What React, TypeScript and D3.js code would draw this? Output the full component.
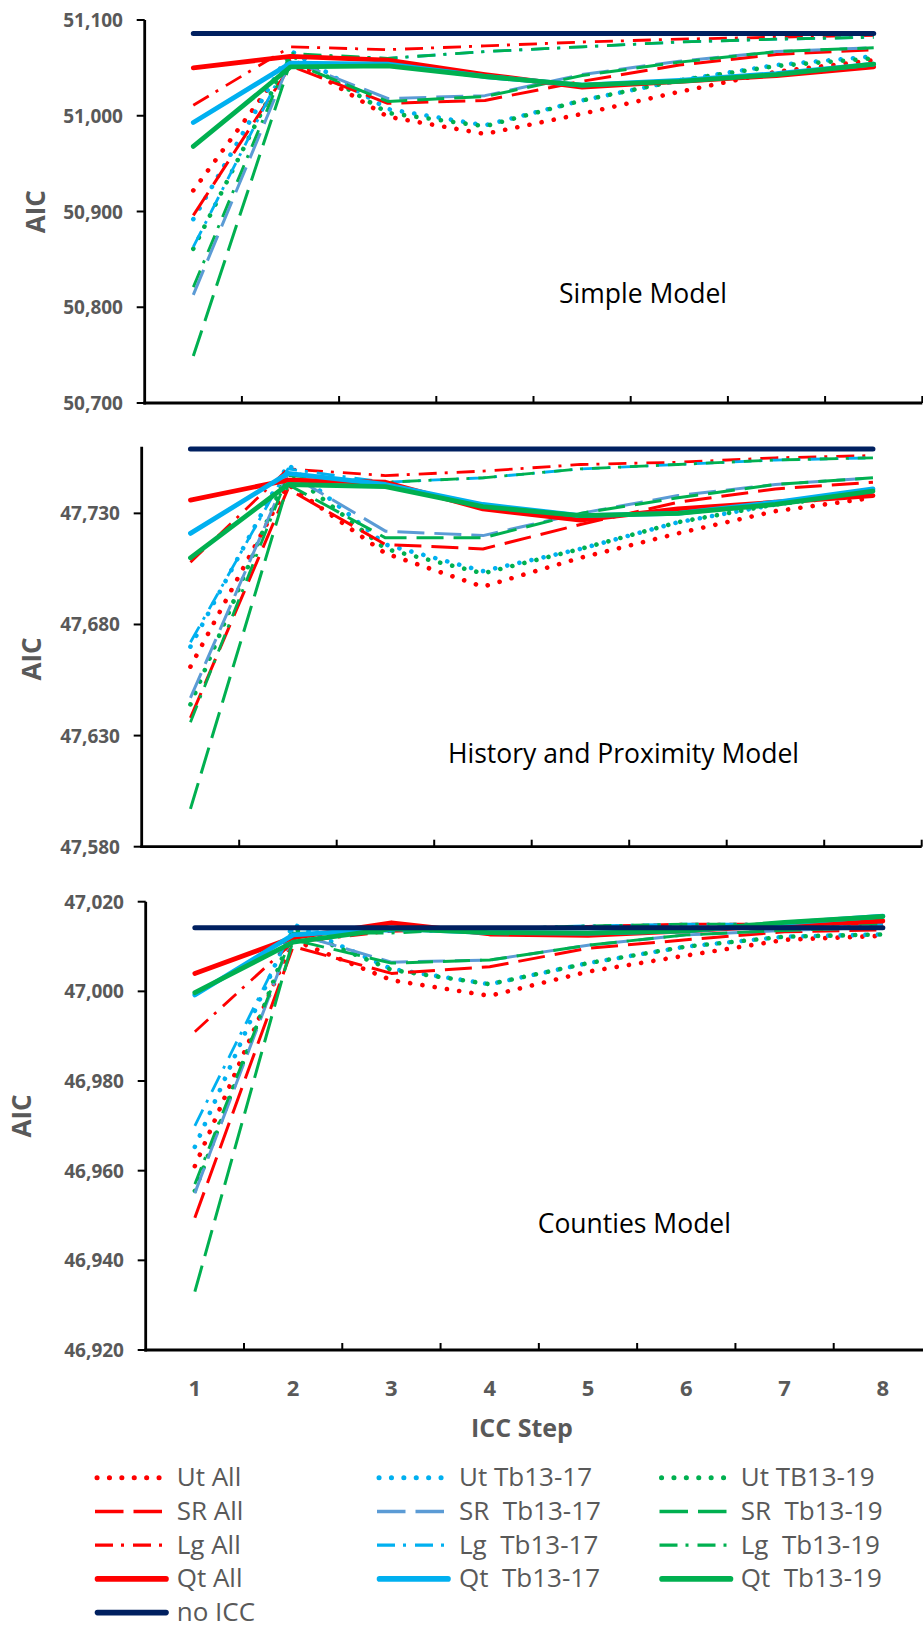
import React from 'react';
import * as d3 from 'd3';

// ---------- DATA ----------
const STEPS = [1, 2, 3, 4, 5, 6, 7, 8];

const SIMPLE_TICKS = [50700, 50800, 50900, 51000, 51100];
const HISTORY_TICKS = [47580, 47630, 47680, 47730];
const COUNTIES_TICKS = [46920, 46940, 46960, 46980, 47000, 47020];

// Simple Model
const S_UT_ALL = [50922, 51060, 50999, 50981, 51002, 51025, 51046, 51058];
const S_SR_ALL = [50896, 51052, 51013, 51016, 51036, 51053, 51064, 51069];
const S_LG_ALL = [51011, 51072, 51069, 51073, 51077, 51080, 51082, 51084];
const S_QT_ALL = [51050, 51062, 51058, 51043, 51030, 51036, 51042, 51051];
const S_UT_17 = [50892, 51068, 51007, 50990, 51016, 51037, 51053, 51062];
const S_SR_17 = [50813, 51058, 51018, 51021, 51043, 51057, 51067, 51071];
const S_LG_17 = [50863, 51063, 51060, 51067, 51072, 51077, 51080, 51082];
const S_QT_17 = [50993, 51055, 51054, 51041, 51032, 51037, 51044, 51054];
const S_UT_19 = [50861, 51064, 51003, 50989, 51016, 51037, 51052, 51060];
const S_SR_19 = [50749, 51056, 51015, 51020, 51042, 51056, 51067, 51071];
const S_LG_19 = [50821, 51065, 51060, 51067, 51072, 51077, 51080, 51082];
const S_QT_19 = [50968, 51051, 51052, 51041, 51032, 51036, 51043, 51054];
const S_NO_ICC = [51086, 51086, 51086, 51086, 51086, 51086, 51086, 51086];

// History and Proximity Model
const H_UT_ALL = [47661, 47743, 47712, 47697, 47710, 47721, 47731, 47737];
const H_SR_ALL = [47638, 47741, 47716, 47714, 47725, 47735, 47741, 47744];
const H_LG_ALL = [47708, 47750, 47747, 47749, 47752, 47753, 47755, 47756];
const H_QT_ALL = [47736, 47745, 47744, 47732, 47727, 47732, 47735, 47738];
const H_UT_17 = [47670, 47752, 47716, 47704, 47714, 47726, 47734, 47740];
const H_SR_17 = [47647, 47748, 47722, 47720, 47730, 47738, 47743, 47746];
const H_LG_17 = [47672, 47750, 47744, 47746, 47750, 47752, 47754, 47755];
const H_QT_17 = [47721, 47748, 47743, 47734, 47729, 47730, 47735, 47741];
const H_UT_19 = [47644, 47749, 47714, 47703, 47714, 47726, 47734, 47739];
const H_SR_19 = [47597, 47743, 47719, 47719, 47730, 47737, 47743, 47746];
const H_LG_19 = [47636, 47747, 47744, 47746, 47750, 47752, 47754, 47755];
const H_QT_19 = [47710, 47743, 47742, 47733, 47729, 47730, 47734, 47740];
const H_NO_ICC = [47759, 47759, 47759, 47759, 47759, 47759, 47759, 47759];

// Counties Model
const C_UT_ALL = [46961, 47011.5, 47002.5, 46999, 47004.4, 47008, 47011.5, 47012.4];
const C_SR_ALL = [46949.5, 47010, 47004, 47005.5, 47009.6, 47011.5, 47013.3, 47013.7];
const C_LG_ALL = [46991, 47011, 47013.4, 47014, 47014.5, 47015, 47015, 47015];
const C_QT_ALL = [47004, 47012, 47015.3, 47012.8, 47012.5, 47013.5, 47014.8, 47015.7];
const C_UT_17 = [46965.3, 47015, 47005, 47001.6, 47006.3, 47010, 47012.2, 47012.7];
const C_SR_17 = [46955, 47013, 47006.5, 47007, 47010.3, 47012.6, 47013.6, 47014.3];
const C_LG_17 = [46970, 47014, 47013.4, 47014, 47014.6, 47015, 47015, 47015];
const C_QT_17 = [46999.2, 47012.6, 47014, 47013.1, 47013, 47013.5, 47015.2, 47016.8];
const C_UT_19 = [46955.5, 47014, 47004.8, 47001.6, 47006.3, 47010, 47012.2, 47012.7];
const C_SR_19 = [46933, 47011.5, 47006.3, 47007, 47010.3, 47012.6, 47013.6, 47014.3];
const C_LG_19 = [46957, 47013, 47013, 47014, 47014.6, 47015, 47015, 47015];
const C_QT_19 = [46999.7, 47011, 47014, 47013.1, 47013, 47013.5, 47015.4, 47016.7];
const C_NO_ICC = [47014.2, 47014.2, 47014.2, 47014.2, 47014.2, 47014.2, 47014.2, 47014.2];

// ---------- SERIES META (labels / styles) ----------
type Kind = 'Ut' | 'SR' | 'Lg' | 'Qt' | 'no';
const SERIES_META: { key: string; label: string; color: string; kind: Kind }[] = [
  { key: 'UtAll', label: 'Ut All', color: '#FF0000', kind: 'Ut' },
  { key: 'Ut17', label: 'Ut Tb13-17', color: '#00B0F0', kind: 'Ut' },
  { key: 'Ut19', label: 'Ut TB13-19', color: '#00B050', kind: 'Ut' },
  { key: 'SRAll', label: 'SR All', color: '#FF0000', kind: 'SR' },
  { key: 'SR17', label: 'SR  Tb13-17', color: '#5B9BD5', kind: 'SR' },
  { key: 'SR19', label: 'SR  Tb13-19', color: '#00B050', kind: 'SR' },
  { key: 'LgAll', label: 'Lg All', color: '#FF0000', kind: 'Lg' },
  { key: 'Lg17', label: 'Lg  Tb13-17', color: '#00B0F0', kind: 'Lg' },
  { key: 'Lg19', label: 'Lg  Tb13-19', color: '#00B050', kind: 'Lg' },
  { key: 'QtAll', label: 'Qt All', color: '#FF0000', kind: 'Qt' },
  { key: 'Qt17', label: 'Qt  Tb13-17', color: '#00B0F0', kind: 'Qt' },
  { key: 'Qt19', label: 'Qt  Tb13-19', color: '#00B050', kind: 'Qt' },
  { key: 'noICC', label: 'no ICC', color: '#002060', kind: 'no' },
];

const KIND_STYLE: Record<Kind, { width: number; dash?: string; cap: 'round' | 'butt' }> = {
  Ut: { width: 4.6, dash: '0.1 12.3', cap: 'round' },
  SR: { width: 3, dash: '27 10', cap: 'butt' },
  Lg: { width: 2.8, dash: '18 8 3 9', cap: 'butt' },
  Qt: { width: 4.8, cap: 'round' },
  no: { width: 5, cap: 'round' },
};

const PANELS = [
  {
    title: 'Simple Model',
    domain: [50700, 51100],
    ticks: SIMPLE_TICKS,
    data: {
      UtAll: S_UT_ALL, SRAll: S_SR_ALL, LgAll: S_LG_ALL, QtAll: S_QT_ALL,
      Ut17: S_UT_17, SR17: S_SR_17, Lg17: S_LG_17, Qt17: S_QT_17,
      Ut19: S_UT_19, SR19: S_SR_19, Lg19: S_LG_19, Qt19: S_QT_19, noICC: S_NO_ICC,
    } as Record<string, number[]>,
    x0: 144.7, x1: 922.3, y0: 20, y1: 403, labelRight: 123, aic: [35, 211.7], titlePos: [559, 303],
  },
  {
    title: 'History and Proximity Model',
    domain: [47580, 47760],
    ticks: HISTORY_TICKS,
    data: {
      UtAll: H_UT_ALL, SRAll: H_SR_ALL, LgAll: H_LG_ALL, QtAll: H_QT_ALL,
      Ut17: H_UT_17, SR17: H_SR_17, Lg17: H_LG_17, Qt17: H_QT_17,
      Ut19: H_UT_19, SR19: H_SR_19, Lg19: H_LG_19, Qt19: H_QT_19, noICC: H_NO_ICC,
    } as Record<string, number[]>,
    x0: 141.7, x1: 921.7, y0: 446.7, y1: 846.7, labelRight: 120, aic: [31, 659], titlePos: [448, 763],
  },
  {
    title: 'Counties Model',
    domain: [46920, 47020],
    ticks: COUNTIES_TICKS,
    data: {
      UtAll: C_UT_ALL, SRAll: C_SR_ALL, LgAll: C_LG_ALL, QtAll: C_QT_ALL,
      Ut17: C_UT_17, SR17: C_SR_17, Lg17: C_LG_17, Qt17: C_QT_17,
      Ut19: C_UT_19, SR19: C_SR_19, Lg19: C_LG_19, Qt19: C_QT_19, noICC: C_NO_ICC,
    } as Record<string, number[]>,
    x0: 145.7, x1: 932, y0: 901.7, y1: 1350, labelRight: 124, aic: [20.5, 1116], titlePos: [537.7, 1232.5],
  },
];

const FONT = "'Open Sans', 'Noto Sans', sans-serif";
const GRAY = '#595959';
const fmt = d3.format(',');

function Panel({ p, showX }: { p: (typeof PANELS)[number]; showX: boolean }) {
  const x = d3.scaleBand<number>().domain(STEPS).range([p.x0, p.x1]).padding(0);
  const y = d3.scaleLinear().domain(p.domain).range([p.y1, p.y0]);
  const cx = (s: number) => (x(s) as number) + x.bandwidth() / 2;
  const line = d3
    .line<number>()
    .x((_, i) => cx(STEPS[i]))
    .y((v) => y(v));
  return (
    <g>
      {STEPS.map((s) => {
        const xx = (x(s) as number) + x.bandwidth();
        return <line key={'xt' + s} x1={xx} x2={xx} y1={p.y1} y2={p.y1 - 7} stroke="#000" strokeWidth={2} />;
      })}
      {p.ticks.map((t) => (
        <g key={'yt' + t}>
          <line x1={p.x0 - 8} x2={p.x0} y1={y(t)} y2={y(t)} stroke="#000" strokeWidth={2} />
          <text
            x={p.labelRight}
            y={y(t)}
            textAnchor="end"
            dominantBaseline="central"
            fontFamily={FONT}
            fontWeight={700}
            fontSize={19}
            fill={GRAY}
          >
            {fmt(t)}
          </text>
        </g>
      ))}
      {SERIES_META.map((m) => {
        const st = KIND_STYLE[m.kind];
        return (
          <path
            key={m.key}
            d={line(p.data[m.key]) || ''}
            fill="none"
            stroke={m.color}
            strokeWidth={st.width}
            strokeDasharray={st.dash}
            strokeLinecap={st.cap}
            strokeLinejoin="round"
          />
        );
      })}
      <line x1={p.x0} x2={p.x0} y1={p.y0} y2={p.y1 + 1.4} stroke="#000" strokeWidth={2.8} />
      <line x1={p.x0 - 1.4} x2={p.x1} y1={p.y1} y2={p.y1} stroke="#000" strokeWidth={2.8} />
      <text
        transform={`translate(${p.aic[0]},${p.aic[1]}) rotate(-90)`}
        textAnchor="middle"
        dominantBaseline="central"
        fontFamily={FONT}
        fontWeight={700}
        fontSize={26}
        fill={GRAY}
      >
        AIC
      </text>
      <text x={p.titlePos[0]} y={p.titlePos[1]} fontFamily={FONT} fontSize={26.5} fill="#000">
        {p.title}
      </text>
      {showX &&
        STEPS.map((s) => (
          <text
            key={'xl' + s}
            x={cx(s)}
            y={1386.7}
            textAnchor="middle"
            dominantBaseline="central"
            fontFamily={FONT}
            fontWeight={700}
            fontSize={22}
            fill={GRAY}
          >
            {s}
          </text>
        ))}
    </g>
  );
}

const LEGEND_COLS = [
  { sx: 95, tx: 176.7 },
  { sx: 377, tx: 459 },
  { sx: 659.5, tx: 740.7 },
];
const LEGEND_ROW0 = 1477.8;
const LEGEND_DY = 33.7;

function Legend() {
  const kinds: Kind[] = ['Ut', 'SR', 'Lg', 'Qt'];
  const items: { m: (typeof SERIES_META)[number]; col: number; row: number }[] = [];
  SERIES_META.forEach((m, i) => {
    if (m.kind === 'no') items.push({ m, col: 0, row: 4 });
    else items.push({ m, col: i % 3, row: kinds.indexOf(m.kind) });
  });
  return (
    <g>
      {items.map(({ m, col, row }) => {
        const st = KIND_STYLE[m.kind];
        const c = LEGEND_COLS[col];
        const yy = LEGEND_ROW0 + row * LEGEND_DY;
        const solid = m.kind === 'Qt' || m.kind === 'no';
        const lw = solid ? 5.6 : m.kind === 'Ut' ? 5 : m.kind === 'SR' ? 3.6 : 3.2;
        const x1 = m.kind === 'Ut' ? c.sx + 2 : c.sx + (solid ? 2.5 : 0);
        const x2 = solid ? c.sx + 71 : c.sx + 67;
        return (
          <g key={'lg' + m.key}>
            <line
              x1={x1}
              x2={x2}
              y1={yy}
              y2={yy}
              stroke={m.color}
              strokeWidth={lw}
              strokeDasharray={m.kind === 'SR' ? '28.5 10' : st.dash}
              strokeLinecap={st.cap}
            />
            <text
              x={c.tx}
              y={yy + 8.3}
              fontFamily={FONT}
              fontSize={26}
              fill={GRAY}
              style={{ whiteSpace: 'pre' }}
            >
              {m.label}
            </text>
          </g>
        );
      })}
    </g>
  );
}

export default function App() {
  return (
    <svg
      width={923}
      height={1629}
      style={{ position: 'absolute', left: 0, top: 0, background: '#fff' }}
      xmlSpace="preserve"
    >
      <rect x={0} y={0} width={923} height={1629} fill="#fff" />
      {PANELS.map((p, i) => (
        <Panel key={p.title} p={p} showX={i === 2} />
      ))}
      <text
        x={522}
        y={1426.7}
        textAnchor="middle"
        dominantBaseline="central"
        fontFamily={FONT}
        fontWeight={700}
        fontSize={25}
        fill={GRAY}
      >
        ICC Step
      </text>
      <Legend />
    </svg>
  );
}
